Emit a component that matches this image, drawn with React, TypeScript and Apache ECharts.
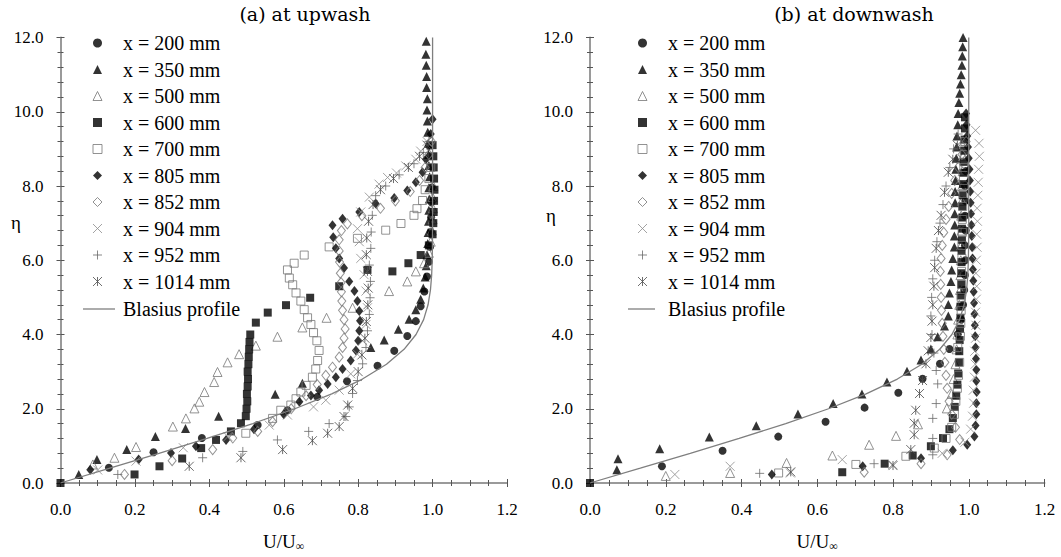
import React, { useEffect, useRef } from 'react';
import * as echarts from 'echarts';

// ---------- data ----------
const seriesNames = ['x = 200 mm', 'x = 350 mm', 'x = 500 mm', 'x = 600 mm', 'x = 700 mm', 'x = 805 mm', 'x = 852 mm', 'x = 904 mm', 'x = 952 mm', 'x = 1014 mm'];
const blasiusName = 'Blasius profile';
const xTicks = [0, 0.2, 0.4, 0.6, 0.8, 1.0, 1.2];
const yTicks = [0, 2, 4, 6, 8, 10, 12];

// Blasius profile (eta, U/Uinf)
const blasiusEta = [0, 0.4, 0.8, 1.2, 1.6, 2.0, 2.4, 2.8, 3.2, 3.6, 4.0, 4.4, 4.8, 5.2, 5.6, 6.0, 6.4, 6.8, 7.2, 12.0];
const blasiusU = [0, 0.1328, 0.2647, 0.3938, 0.5168, 0.6298, 0.729, 0.8115, 0.8761, 0.9233, 0.9555, 0.9759, 0.9878, 0.9943, 0.9975, 0.999, 0.9996, 0.9999, 1.0, 1.0];

// (a) upwash : [U/Uinf, eta]
const up200 = [[0.13,0.41],[0.25,0.83],[0.38,1.21],[0.53,1.56],[0.61,1.96],[0.69,2.32],[0.77,2.74],[0.852,3.16],[0.897,3.56],[0.932,3.96],[0.955,4.36],[0.968,4.76],[0.978,5.16],[0.985,5.56],[0.99,5.96],[0.993,6.36],[0.995,6.76],[0.996,7.16],[0.997,7.56],[0.998,7.96]];
const up350 = [[0.049,0.23],[0.098,0.63],[0.178,0.9],[0.255,1.25],[0.336,1.47],[0.425,1.8],[0.577,2.39],[0.65,2.69],[0.834,3.65],[0.87,3.85],[0.908,4.14],[0.937,4.41],[0.955,4.67],[0.968,4.95],[0.975,5.25],[0.98,5.55],[0.983,5.85],[0.985,6.15],[0.987,6.45],[0.988,6.75],[0.989,7.05],[0.99,7.35],[0.991,7.65],[0.99,7.95],[0.992,8.25],[0.99,8.55],[0.989,8.85],[0.988,9.15],[0.987,9.45],[0.986,9.75],[0.985,10.05],[0.986,10.35],[0.984,10.65],[0.984,10.95],[0.983,11.25],[0.982,11.55],[0.983,11.9]];
const up500 = [[0.087,0.5],[0.145,0.68],[0.203,0.97],[0.302,1.52],[0.337,1.74],[0.36,2.01],[0.373,2.19],[0.387,2.45],[0.413,2.72],[0.422,2.99],[0.449,3.25],[0.48,3.47],[0.525,3.7],[0.583,3.94],[0.65,4.19],[0.715,4.45],[0.785,4.72],[0.883,5.17],[0.932,5.43],[0.955,5.7],[0.977,5.92],[0.99,6.2],[0.995,6.5],[0.998,6.8],[1.0,7.1],[1.001,7.4],[1.0,7.7],[1.002,8.0]];
const up600 = [[0,0],[0.199,0.23],[0.266,0.45],[0.327,0.66],[0.378,0.94],[0.418,1.16],[0.458,1.39],[0.485,1.61],[0.498,1.8],[0.5,2.0],[0.502,2.2],[0.501,2.4],[0.503,2.6],[0.504,2.8],[0.503,3.0],[0.505,3.2],[0.506,3.4],[0.507,3.6],[0.508,3.8],[0.51,4.0],[0.525,4.32],[0.557,4.59],[0.606,4.79],[0.671,4.99],[0.749,5.3],[0.825,5.74],[0.892,5.7],[0.935,5.92],[0.968,6.14],[0.99,6.4],[1.0,6.7],[1.002,7.0],[1.003,7.3],[1.004,7.6],[1.005,7.9],[1.004,8.2],[1.003,8.5],[1.002,8.8],[1.0,9.1]];
const up700 = [[0.498,1.34],[0.57,1.74],[0.592,1.96],[0.619,2.1],[0.633,2.27],[0.646,2.45],[0.66,2.63],[0.677,2.85],[0.686,3.07],[0.691,3.3],[0.695,3.57],[0.689,3.83],[0.68,4.05],[0.673,4.27],[0.664,4.45],[0.655,4.67],[0.646,4.9],[0.633,5.12],[0.624,5.34],[0.615,5.52],[0.61,5.74],[0.628,5.92],[0.655,6.14],[0.722,6.36],[0.798,6.59],[0.874,6.81],[0.915,6.99],[0.95,7.21],[0.958,7.39],[0.973,7.61],[0.98,7.9],[0.99,8.2],[0.995,8.5]];
const up805 = [[0.08,0.36],[0.21,0.63],[0.297,0.81],[0.364,0.99],[0.445,1.16],[0.52,1.45],[0.6,1.85],[0.642,2.19],[0.673,2.36],[0.695,2.5],[0.718,2.67],[0.74,2.85],[0.758,3.07],[0.78,3.3],[0.794,3.57],[0.8,3.83],[0.803,4.1],[0.805,4.37],[0.803,4.63],[0.798,4.9],[0.79,5.17],[0.776,5.43],[0.762,5.79],[0.749,6.05],[0.74,6.32],[0.733,6.62],[0.731,6.94],[0.758,7.12],[0.803,7.3],[0.847,7.53],[0.897,7.68],[0.932,7.88],[0.955,8.1],[0.973,8.37],[0.982,8.72],[0.99,9.07],[0.995,9.4],[1.0,9.8]];
const up852 = [[0.172,0.23],[0.3,0.6],[0.409,0.9],[0.463,1.21],[0.53,1.39],[0.57,1.65],[0.62,2.0],[0.66,2.35],[0.69,2.65],[0.713,2.9],[0.731,3.12],[0.749,3.39],[0.758,3.65],[0.762,3.9],[0.765,4.15],[0.762,4.4],[0.758,4.65],[0.756,4.9],[0.755,5.15],[0.754,5.4],[0.752,5.65],[0.75,5.95],[0.749,6.25],[0.749,6.55],[0.755,6.8],[0.771,6.98],[0.81,7.2],[0.86,7.4],[0.9,7.6],[0.94,7.85],[0.965,8.15],[0.98,8.5],[0.99,8.85],[0.997,9.2]];
const up904 = [[0.1,0.35],[0.203,0.59],[0.33,0.95],[0.45,1.25],[0.561,1.56],[0.61,1.83],[0.68,2.05],[0.713,2.23],[0.749,2.5],[0.78,2.94],[0.798,3.47],[0.812,3.83],[0.821,4.27],[0.825,4.72],[0.821,5.17],[0.816,5.61],[0.807,6.05],[0.803,6.5],[0.798,6.85],[0.807,7.3],[0.83,7.7],[0.856,8.05],[0.879,8.23],[0.903,8.35],[0.928,8.54],[0.955,8.72],[0.968,8.94],[0.985,9.2]];
const up952 = [[0.154,0.23],[0.382,0.68],[0.49,0.85],[0.583,1.16],[0.667,1.39],[0.722,1.6],[0.767,1.79],[0.776,2.05],[0.785,2.41],[0.798,2.76],[0.812,3.21],[0.821,3.65],[0.825,4.1],[0.83,4.54],[0.832,4.99],[0.833,5.43],[0.83,5.87],[0.834,6.32],[0.835,6.76],[0.838,7.21],[0.847,7.74],[0.874,8.0],[0.91,8.3],[0.95,8.6],[0.975,8.9],[0.99,9.2]];
const up1014 = [[0.346,0.45],[0.485,0.68],[0.597,0.9],[0.677,1.14],[0.718,1.34],[0.749,1.52],[0.762,1.79],[0.772,2.1],[0.785,2.55],[0.8,3.0],[0.81,3.45],[0.818,3.9],[0.822,4.35],[0.826,4.8],[0.827,5.25],[0.825,5.7],[0.822,6.15],[0.823,6.6],[0.828,7.05],[0.84,7.5],[0.86,7.9],[0.895,8.2],[0.935,8.5],[0.965,8.8],[0.985,9.1]];

// (b) downwash : [U/Uinf, eta]
const dn200 = [[0.19,0.45],[0.35,0.87],[0.497,1.25],[0.622,1.65],[0.725,2.03],[0.814,2.43],[0.878,2.81],[0.924,3.21],[0.949,3.61],[0.971,4.01],[0.98,4.4],[0.985,4.8],[0.988,5.2],[0.99,5.6],[0.991,6.0],[0.99,6.4],[0.992,6.8],[0.99,7.2],[0.991,7.6],[0.99,8.0],[0.992,8.4]];
const dn350 = [[0.071,0.36],[0.074,0.65],[0.184,0.92],[0.315,1.24],[0.439,1.54],[0.549,1.86],[0.642,2.14],[0.718,2.4],[0.784,2.72],[0.837,3.01],[0.874,3.31],[0.9,3.61],[0.918,3.94],[0.936,4.23],[0.946,4.5],[0.946,4.81],[0.949,5.12],[0.953,5.43],[0.955,5.74],[0.958,6.05],[0.962,6.36],[0.962,6.65],[0.963,6.95],[0.963,7.25],[0.964,7.55],[0.964,7.85],[0.965,8.15],[0.966,8.45],[0.967,8.75],[0.968,9.05],[0.969,9.35],[0.971,9.65],[0.972,9.95],[0.974,10.25],[0.976,10.5],[0.978,10.75],[0.98,11.0],[0.982,11.25],[0.983,11.5],[0.984,11.75],[0.985,12.0]];
const dn500 = [[0.2,0.19],[0.37,0.27],[0.519,0.54],[0.64,0.74],[0.737,1.03],[0.808,1.27],[0.866,1.58],[0.942,2.01],[0.955,2.4],[0.96,2.8],[0.965,3.2],[0.968,3.6],[0.97,4.0],[0.972,4.4],[0.975,4.8],[0.977,5.2],[0.978,5.6],[0.979,6.0],[0.98,6.4],[0.981,6.8],[0.98,7.2],[0.982,7.6],[0.982,8.0],[0.984,8.4],[0.985,8.8],[0.987,9.2]];
const dn600 = [[0,0],[0.666,0.29],[0.778,0.52],[0.852,0.74],[0.9,0.99],[0.932,1.21],[0.949,1.45],[0.958,1.75],[0.963,2.05],[0.967,2.35],[0.97,2.65],[0.972,2.95],[0.974,3.25],[0.975,3.55],[0.976,3.85],[0.977,4.15],[0.978,4.45],[0.978,4.75],[0.979,5.05],[0.98,5.35],[0.98,5.65],[0.981,5.95],[0.981,6.25],[0.982,6.55],[0.982,6.85],[0.983,7.15],[0.983,7.45],[0.984,7.75],[0.985,8.05],[0.986,8.35],[0.987,8.65],[0.988,8.95],[0.989,9.25],[0.99,9.55],[0.99,9.85]];
const dn700 = [[0.498,0.27],[0.702,0.5],[0.834,0.72],[0.909,0.94],[0.94,1.2],[0.955,1.5],[0.962,1.85],[0.966,2.2],[0.97,2.55],[0.973,2.9],[0.976,3.25],[0.971,3.65],[0.978,3.95],[0.979,4.3],[0.98,4.65],[0.98,5.0],[0.981,5.35],[0.981,5.7],[0.982,6.05],[0.982,6.4],[0.983,6.75],[0.983,7.1],[0.984,7.45],[0.985,7.8],[0.986,8.15],[0.987,8.5],[0.988,8.85],[0.99,9.2]];
const dn805 = [[0.48,0.23],[0.72,0.45],[0.874,0.67],[0.958,0.88],[0.996,1.03],[1.015,1.25],[1.018,1.55],[1.02,1.85],[1.02,2.15],[1.021,2.45],[1.02,2.75],[1.02,3.05],[1.019,3.35],[1.018,3.65],[1.017,3.95],[1.016,4.25],[1.015,4.55],[1.014,4.85],[1.013,5.15],[1.012,5.45],[1.011,5.75],[1.01,6.05],[1.009,6.35],[1.008,6.65],[1.007,6.95],[1.006,7.25],[1.005,7.55],[1.004,7.85],[1.003,8.15],[1.002,8.45],[1.0,8.75],[0.998,9.05],[0.996,9.35],[0.994,9.65],[0.993,9.95]];
const dn852 = [[0.724,0.29],[0.874,0.52],[0.943,0.76],[0.976,1.17],[0.965,1.5],[0.955,1.85],[0.948,2.2],[0.943,2.55],[0.94,2.9],[0.937,3.25],[0.934,3.6],[0.932,3.95],[0.93,4.3],[0.928,4.65],[0.927,5.0],[0.926,5.35],[0.925,5.7],[0.927,6.05],[0.93,6.4],[0.934,6.75],[0.94,7.1],[0.947,7.45],[0.955,7.8],[0.963,8.15],[0.972,8.5],[0.982,8.85],[0.993,9.2]];
const dn904 = [[0.224,0.23],[0.37,0.45],[0.529,0.27],[0.666,0.63],[0.799,0.5],[0.93,0.8],[0.99,1.1],[1.005,1.45],[1.01,1.8],[1.013,2.15],[1.012,2.5],[1.015,2.85],[1.017,3.2],[1.016,3.55],[1.018,3.9],[1.019,4.25],[1.018,4.6],[1.02,4.95],[1.021,5.3],[1.019,5.65],[1.02,6.0],[1.022,6.35],[1.021,6.7],[1.023,7.05],[1.022,7.4],[1.024,7.75],[1.025,8.1],[1.026,8.45],[1.028,8.8],[1.027,9.15],[1.018,9.5]];
const dn952 = [[0.448,0.26],[0.75,0.52],[0.905,0.76],[0.905,1.2],[0.905,1.74],[0.914,2.14],[0.918,2.67],[0.914,3.03],[0.908,3.5],[0.903,4.0],[0.9,4.5],[0.902,5.0],[0.905,5.5],[0.91,6.0],[0.916,6.5],[0.924,7.0],[0.932,7.5],[0.94,8.0],[0.95,8.5],[0.96,9.0],[0.972,9.4]];
const dn1014 = [[0.53,0.3],[0.8,0.47],[0.847,0.9],[0.856,1.3],[0.856,1.61],[0.86,1.96],[0.87,2.41],[0.878,2.76],[0.887,3.21],[0.893,3.56],[0.9,3.92],[0.903,4.36],[0.905,4.8],[0.908,5.3],[0.91,5.8],[0.914,6.32],[0.92,6.8],[0.927,7.21],[0.936,7.83],[0.946,8.37],[0.958,8.72],[0.97,9.1]];

const upData = [up200, up350, up500, up600, up700, up805, up852, up904, up952, up1014];
const dnData = [dn200, dn350, dn500, dn600, dn700, dn805, dn852, dn904, dn952, dn1014];

// ---------- styles ----------
const X_PATH = 'path://M0,0L10,10M10,0L0,10';
const PLUS_PATH = 'path://M5,0L5,10M0,5L10,5';
const STAR_PATH = 'path://M0,0L10,10M10,0L0,10M5,0L5,10';
const GRAY = '#777';
const markerStyles: any[] = [
  { symbol: 'circle', symbolSize: 8, itemStyle: { color: '#000' } },
  { symbol: 'triangle', symbolSize: 9, itemStyle: { color: '#000' } },
  { symbol: 'triangle', symbolSize: 9, itemStyle: { color: 'transparent', borderColor: GRAY, borderWidth: 1 } },
  { symbol: 'rect', symbolSize: 8, itemStyle: { color: '#000' } },
  { symbol: 'rect', symbolSize: 8, itemStyle: { color: 'transparent', borderColor: GRAY, borderWidth: 1 } },
  { symbol: 'diamond', symbolSize: [8, 10], itemStyle: { color: '#000' } },
  { symbol: 'diamond', symbolSize: [8, 10], itemStyle: { color: 'transparent', borderColor: GRAY, borderWidth: 1 } },
  { symbol: X_PATH, symbolSize: 9, itemStyle: { color: 'transparent', borderColor: '#8c8c8c', borderWidth: 1 } },
  { symbol: PLUS_PATH, symbolSize: 9, itemStyle: { color: 'transparent', borderColor: '#6a6a6a', borderWidth: 1 } },
  { symbol: STAR_PATH, symbolSize: 9, itemStyle: { color: 'transparent', borderColor: '#4a4a4a', borderWidth: 1 } },
];

const LABEL_FONT = 'Liberation Serif';
const TITLE_FONT = 'DejaVu Serif';

function xAxes(gridIndex: number) {
  const base = {
    type: 'value', gridIndex, min: xTicks[0], max: xTicks[xTicks.length - 1], interval: 0.2,
    position: 'bottom', splitLine: { show: false }, minorSplitLine: { show: false },
  };
  return [
    {
      ...base,
      axisLine: { show: true, onZero: false, lineStyle: { color: '#9a9a9a', width: 2 } },
      axisTick: { show: true, length: 4, lineStyle: { color: '#555' } },
      minorTick: { show: true, splitNumber: 4, length: 3, lineStyle: { color: '#555' } },
      axisLabel: { formatter: (v: number) => v.toFixed(1), fontFamily: LABEL_FONT, fontSize: 17, color: '#000', margin: 18 },
      name: 'U/U{s|∞}', nameLocation: 'middle', nameGap: 48,
      nameTextStyle: { fontFamily: LABEL_FONT, fontSize: 19, color: '#000', rich: { s: { fontFamily: LABEL_FONT, fontSize: 12, color: '#000', padding: [9, 0, 0, 0] } } },
    },
    {
      ...base,
      axisLine: { show: false, onZero: false },
      axisTick: { show: true, inside: true, length: 4, lineStyle: { color: '#555' } },
      minorTick: { show: true, splitNumber: 4, length: 3, lineStyle: { color: '#555' } },
      axisLabel: { show: false },
    },
  ];
}
function yAxes(gridIndex: number) {
  const base = {
    type: 'value', gridIndex, min: yTicks[0], max: yTicks[yTicks.length - 1], interval: 2,
    position: 'left', splitLine: { show: false }, minorSplitLine: { show: false },
  };
  return [
    {
      ...base,
      axisLine: { show: true, onZero: false, lineStyle: { color: '#9a9a9a', width: 2 } },
      axisTick: { show: true, length: 4, lineStyle: { color: '#555' } },
      minorTick: { show: true, splitNumber: 5, length: 3, lineStyle: { color: '#555' } },
      axisLabel: { formatter: (v: number) => v.toFixed(1), fontFamily: LABEL_FONT, fontSize: 17, color: '#000', margin: 17 },
    },
    {
      ...base,
      axisLine: { show: false, onZero: false },
      axisTick: { show: true, inside: true, length: 4, lineStyle: { color: '#555' } },
      minorTick: { show: true, splitNumber: 5, length: 3, lineStyle: { color: '#555' } },
      axisLabel: { show: false },
    },
  ];
}

function panelSeries(data: number[][][], axisIndex: number) {
  const out: any[] = data.map((pts, i) => ({
    type: 'scatter', name: seriesNames[i], xAxisIndex: axisIndex, yAxisIndex: axisIndex,
    data: pts, ...markerStyles[i], emphasis: { disabled: true },
  }));
  out.push({
    type: 'line', name: blasiusName, xAxisIndex: axisIndex, yAxisIndex: axisIndex,
    data: blasiusEta.map((e, k) => [blasiusU[k], e]),
    symbol: 'none', showSymbol: false, lineStyle: { color: '#7f7f7f', width: 1.3 }, itemStyle: { color: '#7f7f7f' },
    emphasis: { disabled: true }, z: 3,
  });
  return out;
}

function markerLegend(left: number) {
  return {
    orient: 'vertical', left, top: 33, padding: 0, itemGap: 6.5, itemWidth: 9, itemHeight: 9,
    data: seriesNames, selectedMode: false,
    itemStyle: { borderWidth: 1 },
    textStyle: { fontFamily: LABEL_FONT, fontSize: 20, color: '#000', padding: [0, 0, 0, 16] },
  };
}
function lineLegend(left: number, w: number, pad: number) {
  return {
    orient: 'vertical', left, top: 299, padding: 0, itemWidth: w, itemHeight: 1.3,
    data: [{ name: blasiusName, icon: 'rect' }], selectedMode: false,
    itemStyle: { color: '#7f7f7f', borderWidth: 0 },
    textStyle: { fontFamily: LABEL_FONT, fontSize: 20, color: '#000', padding: [0, 0, 0, pad] },
  };
}

export default function App() {
  const ref = useRef<HTMLDivElement>(null);
  useEffect(() => {
    if (!ref.current) return;
    const chart = echarts.init(ref.current, null, { renderer: 'svg' });
    const [x0, x1] = xAxes(0);
    const [x2, x3] = xAxes(1);
    const [y0, y1] = yAxes(0);
    const [y2, y3] = yAxes(1);
    chart.setOption({
      animation: false,
      backgroundColor: '#fff',
      grid: [
        { left: 60.5, top: 37.5, width: 446.5, height: 449.5 },
        { left: 590, top: 37.5, width: 454.5, height: 449.5 },
      ],
      xAxis: [x0, x1, x2, x3],
      yAxis: [y0, y1, y2, y3],
      legend: [markerLegend(92.5), lineLegend(83, 32, 3), markerLegend(637.5), lineLegend(628, 27, 8)],
      graphic: [
        { type: 'text', style: { text: '(a) at upwash', fontFamily: TITLE_FONT, fontSize: 19, fill: '#000', x: 305, y: 14, align: 'center', verticalAlign: 'middle' } },
        { type: 'text', style: { text: '(b) at downwash', fontFamily: TITLE_FONT, fontSize: 19, fill: '#000', x: 854, y: 14, align: 'center', verticalAlign: 'middle' } },
        { type: 'text', style: { text: 'η', fontFamily: LABEL_FONT, fontSize: 19, fill: '#000', x: 16, y: 222, align: 'center', verticalAlign: 'middle' } },
        { type: 'text', style: { text: 'η', fontFamily: LABEL_FONT, fontSize: 19, fill: '#000', x: 551, y: 215, align: 'center', verticalAlign: 'middle' } },
      ],
      series: [...panelSeries(upData, 0), ...panelSeries(dnData, 2)],
    });
    return () => chart.dispose();
  }, []);
  return <div ref={ref} style={{ position: 'fixed', left: 0, top: 0, width: 1061, height: 557 }} />;
}
